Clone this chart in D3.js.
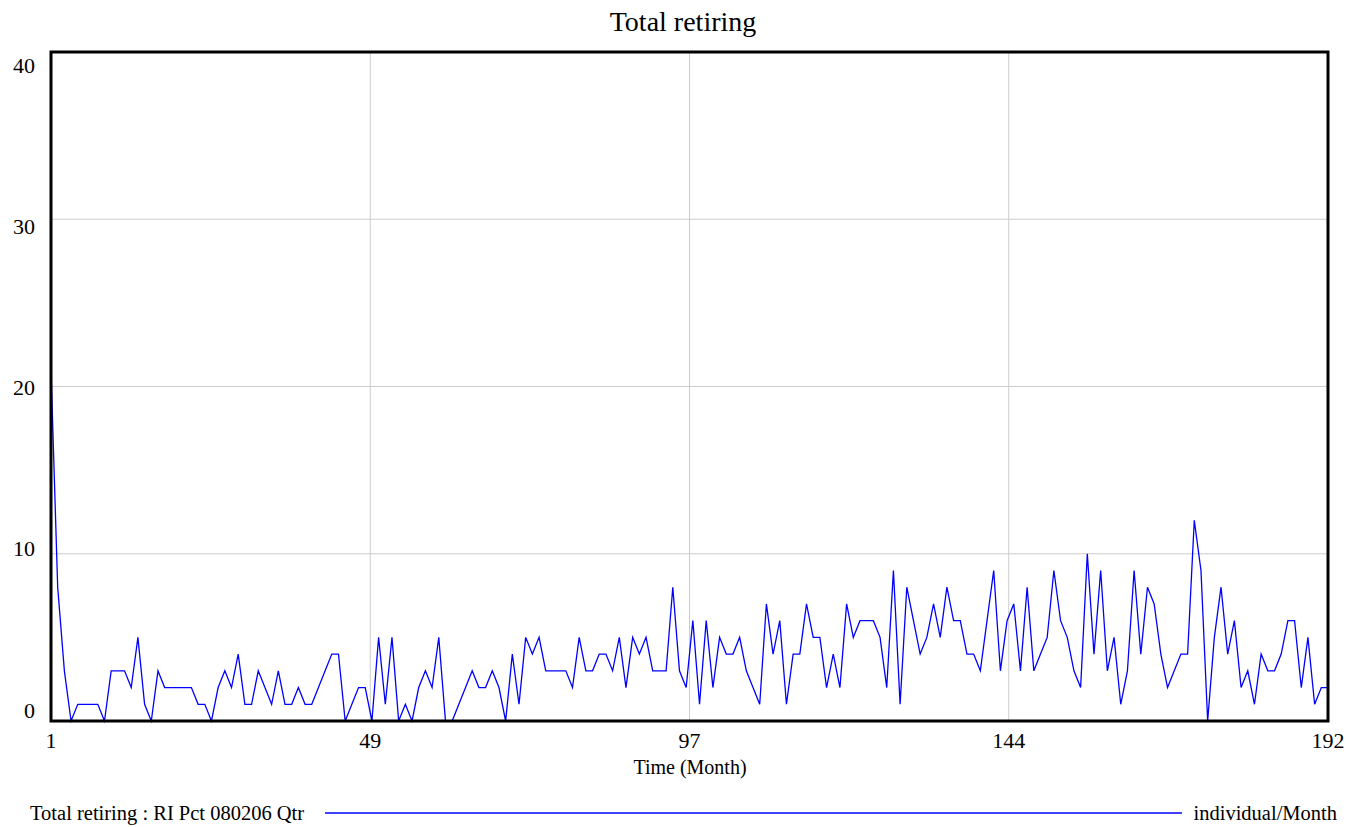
<!DOCTYPE html>
<html>
<head>
<meta charset="utf-8">
<script src="https://cdn.jsdelivr.net/npm/d3@7"></script>
<style>
  body { margin: 0; background: #fff; }
  text { font-family: "Liberation Serif", "Times New Roman", serif; fill: #000; }
</style>
</head>
<body>
<script>
// values, one per month (1..192)
var retiring = [
  21, 8, 3, 0, 1, 1, 1, 1, 0, 3, 3, 3, 2, 5, 1, 0, 3, 2, 2, 2,
  2, 2, 1, 1, 0, 2, 3, 2, 4, 1, 1, 3, 2, 1, 3, 1, 1, 2, 1, 1,
  2, 3, 4, 4, 0, 1, 2, 2, 0, 5, 1, 5, 0, 1, 0, 2, 3, 2, 5, 0,
  0, 1, 2, 3, 2, 2, 3, 2, 0, 4, 1, 5, 4, 5, 3, 3, 3, 3, 2, 5,
  3, 3, 4, 4, 3, 5, 2, 5, 4, 5, 3, 3, 3, 8, 3, 2, 6, 1, 6, 2,
  5, 4, 4, 5, 3, 2, 1, 7, 4, 6, 1, 4, 4, 7, 5, 5, 2, 4, 2, 7,
  5, 6, 6, 6, 5, 2, 9, 1, 8, 6, 4, 5, 7, 5, 8, 6, 6, 4, 4, 3,
  6, 9, 3, 6, 7, 3, 8, 3, 4, 5, 9, 6, 5, 3, 2, 10, 4, 9, 3, 5,
  1, 3, 9, 4, 8, 7, 4, 2, 3, 4, 4, 12, 9, 0, 5, 8, 4, 6, 2, 3,
  1, 4, 3, 3, 4, 6, 6, 2, 5, 1, 2, 2
];
var months = retiring.map(function(d, i) { return i + 1; });

var xTicks = [1, 48.75, 96.5, 144.25, 192];
var xTickLabels = ["1", "49", "97", "144", "192"];
var yTicks = [0, 10, 20, 30, 40];

var title = "Total retiring";
var xTitle = "Time (Month)";
var seriesName = "Total retiring : RI Pct 080206 Qtr";
var unitName = "individual/Month";

var width = 1350, height = 827;
var plotLeft = 51, plotRight = 1328, plotTop = 52, plotBottom = 721;

var svg = d3.select("body").append("svg").attr("width", width).attr("height", height);

var x = d3.scaleLinear().domain([1, 192]).range([plotLeft, plotRight]);
var y = d3.scaleLinear().domain([0, 40]).range([plotBottom, plotTop]);
// labels are spread a little inside the frame, like the original
var yLabel = d3.scaleLinear().domain([0, 40]).range([710, 65]);

//grid
svg.append("g").selectAll("line").data(yTicks.slice(1, -1)).enter().append("line")
  .attr("x1", plotLeft).attr("x2", plotRight)
  .attr("y1", function(d) { return y(d); }).attr("y2", function(d) { return y(d); })
  .attr("stroke", "#cccccc").attr("stroke-width", 1);
svg.append("g").selectAll("line").data(xTicks.slice(1, -1)).enter().append("line")
  .attr("y1", plotTop).attr("y2", plotBottom)
  .attr("x1", function(d) { return x(d); }).attr("x2", function(d) { return x(d); })
  .attr("stroke", "#cccccc").attr("stroke-width", 1);

//series
var line = d3.line().x(function(d, i) { return x(months[i]); }).y(function(d) { return y(d); });
svg.append("path").datum(retiring)
  .attr("d", line).attr("fill", "none")
  .attr("stroke", "#0000ff").attr("stroke-width", 1.3);

//frame
svg.append("rect").attr("x", plotLeft).attr("y", plotTop)
  .attr("width", plotRight - plotLeft).attr("height", plotBottom - plotTop)
  .attr("fill", "none").attr("stroke", "#000").attr("stroke-width", 3);

//labels
svg.append("g").selectAll("text").data(yTicks).enter().append("text")
  .attr("x", 35).attr("y", function(d) { return yLabel(d); }).attr("dy", "0.35em")
  .attr("text-anchor", "end").style("font-size", "22px")
  .text(function(d) { return d; });

svg.append("g").selectAll("text").data(xTicks).enter().append("text")
  .attr("x", function(d) { return x(d); }).attr("y", 748)
  .attr("text-anchor", "middle").style("font-size", "22px")
  .text(function(d, i) { return xTickLabels[i]; });

svg.append("text").attr("x", 690).attr("y", 774).attr("text-anchor", "middle")
  .style("font-size", "20px").text(xTitle);

svg.append("text").attr("x", 683).attr("y", 31).attr("text-anchor", "middle")
  .style("font-size", "28px").text(title);

//legend
svg.append("text").attr("x", 30).attr("y", 820).style("font-size", "20.5px").text(seriesName);
svg.append("line").attr("x1", 325).attr("x2", 1182).attr("y1", 813).attr("y2", 813)
  .attr("stroke", "#0000ff").attr("stroke-width", 1.3);
svg.append("text").attr("x", 1337).attr("y", 820).attr("text-anchor", "end")
  .style("font-size", "20.5px").text(unitName);
</script>
</body>
</html>
